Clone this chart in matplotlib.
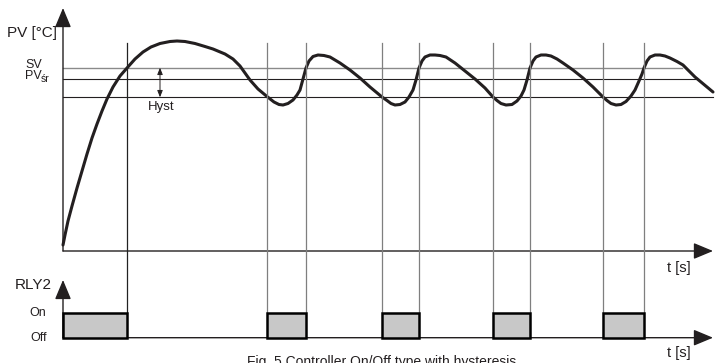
import matplotlib
matplotlib.use("Agg")
import matplotlib.pyplot as plt
from matplotlib.transforms import blended_transform_factory

plt.rcParams["font.family"] = ["Liberation Sans", "DejaVu Sans"]

INK = "#231f20"

# process value curve (t [s], PV)
t_pv = [0, 2, 5, 9, 14, 19, 24, 29, 34, 39, 44, 50, 57, 64, 72, 80, 88, 97,
        107, 114, 122, 132, 142, 150, 162, 170, 177, 182, 187, 195, 204, 211,
        216, 220, 225, 230, 234, 237, 240, 243, 246, 250, 255, 261, 267, 277,
        287, 297, 307, 313, 319, 324, 328, 332, 337, 342, 346, 350, 353, 356,
        359, 362, 367, 372, 377, 383, 392, 402, 412, 422, 430, 434, 438, 443,
        449, 454, 458, 461, 464, 467, 470, 473, 478, 483, 488, 494, 500, 510,
        520, 530, 540, 544, 548, 553, 558, 563, 568, 572, 576, 579, 581, 584,
        587, 592, 597, 602, 607, 614, 620, 626, 632, 638, 644, 650]
pv = [6, 16, 30, 45, 63, 80, 97, 113, 127, 140, 152, 164, 175, 183, 192, 199,
      204, 207.5, 209.5, 210, 209.5, 207.5, 204.5, 202, 197, 192, 185, 178,
      171, 162, 154.5, 149, 146.5, 146, 147.5, 151, 156, 161, 172, 183, 190,
      194.5, 196, 195.5, 194, 188, 181, 173, 164, 159, 154, 150.5, 147.5, 146,
      146.5, 149, 154, 161, 171, 183, 190, 194, 196, 196, 195.5, 194, 188,
      180, 172, 163, 154, 150.5, 147.5, 146, 146.5, 150, 155, 161, 171, 183,
      190, 194, 196, 196, 195, 192, 188, 181, 173, 164, 154, 150.5, 147.5,
      146, 146.5, 149.5, 155, 161, 170, 177, 183, 190, 194, 196, 196, 195,
      193, 189.5, 186, 180, 174, 169, 164, 159]

# set value, mean value, lower hysteresis edge
sv = 183.3
pv_sr = 171.7
hyst_low = 153.7
level_end = [619, 634, 650]

# relay RLY2 on intervals
on_start = [0, 204, 319, 430, 540]
on_end = [63.5, 243, 356, 467, 581]

W, H = 716, 363
fig = plt.figure(figsize=(W / 100, H / 100), dpi=100)
ax = fig.add_axes([0, 1 - 275 / H, 1, 275 / H])
ax2 = fig.add_axes([0, 0, 1, 88 / H])
ax.set_xlim(-63, 653)
ax.set_ylim(-24, 251)
ax2.set_xlim(-63, 653)
ax2.set_ylim(-1.012, 2.508)
for a in (ax, ax2):
    a.set_axis_off()

# switching lines, from top of chart down to the relay "On" level
y_top = 1 - 43 / H
y_on = 1 - 312.7 / H
tr = blended_transform_factory(ax2.transData, fig.transFigure)
for a, b in zip(on_start, on_end):
    for x in (a, b):
        if x == 0:
            continue
        col = "#222222" if x == on_end[0] else "#7f7f7f"
        ax2.plot([x, x], [y_on, y_top], transform=tr, color=col, lw=0.9,
                 clip_on=False, zorder=1)

# level lines
ax.plot([0, level_end[0]], [sv, sv], color="#8a8a8a", lw=1.0, zorder=2)
ax.plot([0, level_end[1]], [pv_sr, pv_sr], color=INK, lw=0.8, zorder=2)
ax.plot([0, level_end[2]], [hyst_low, hyst_low], color=INK, lw=0.8, zorder=2)

# PV curve
ax.plot(t_pv, pv, color=INK, lw=2.2, solid_joinstyle="round",
        solid_capstyle="round", zorder=3)

# axes with arrows
arrow = dict(arrowstyle="-|>,head_length=12,head_width=5", color=INK,
             lw=1.0, mutation_scale=1, shrinkA=0, shrinkB=0)
ax.annotate("", xy=(0, 243), xytext=(0, 0), arrowprops=arrow)
ax.annotate("", xy=(650, 0), xytext=(0, 0), arrowprops=arrow)
ax2.annotate("", xy=(0, 2.31), xytext=(0, 0), arrowprops=arrow)
ax2.annotate("", xy=(650, 0), xytext=(0, 0), arrowprops=arrow)

# hysteresis double arrow
ax.annotate("", xy=(97, sv), xytext=(97, hyst_low),
            arrowprops=dict(arrowstyle="<|-|>,head_length=4,head_width=1.6",
                            color=INK, lw=0.7, mutation_scale=1,
                            shrinkA=0, shrinkB=0))

# relay pulses
ax2.bar(on_start, [1] * len(on_start),
        width=[b - a for a, b in zip(on_start, on_end)], align="edge",
        color="#c8c8c8", edgecolor="black", linewidth=1.8, zorder=3)

# labels
ax.text(-6, 218, "PV [°C]", ha="right", va="center", fontsize=11, color=INK)
ax.text(-38, 186, "SV", ha="left", va="center", fontsize=9, color=INK)
ax.text(-38, 172, "PV", ha="left", va="baseline", fontsize=9, color=INK)
ax.text(-22.5, 169, "śr", ha="left", va="baseline", fontsize=7.5, color=INK)
ax.text(85, 144, "Hyst", ha="left", va="center", fontsize=9.5, color=INK)
ax.text(604, -17, "t [s]", ha="left", va="center", fontsize=10.5, color=INK)

ax2.text(-48, 2.11, "RLY2", ha="left", va="center", fontsize=11, color=INK)
ax2.text(-17, 0.99, "On", ha="right", va="center", fontsize=9, color=INK)
ax2.text(-16, 0.0, "Off", ha="right", va="center", fontsize=9, color=INK)
ax2.text(604, -0.61, "t [s]", ha="left", va="center", fontsize=10.5, color=INK)
ax2.text(184, -0.69, "Fig. 5 Controller On/Off type with hysteresis",
         ha="left", va="top", fontsize=10, color=INK)

fig.savefig("out.png", dpi=100)
